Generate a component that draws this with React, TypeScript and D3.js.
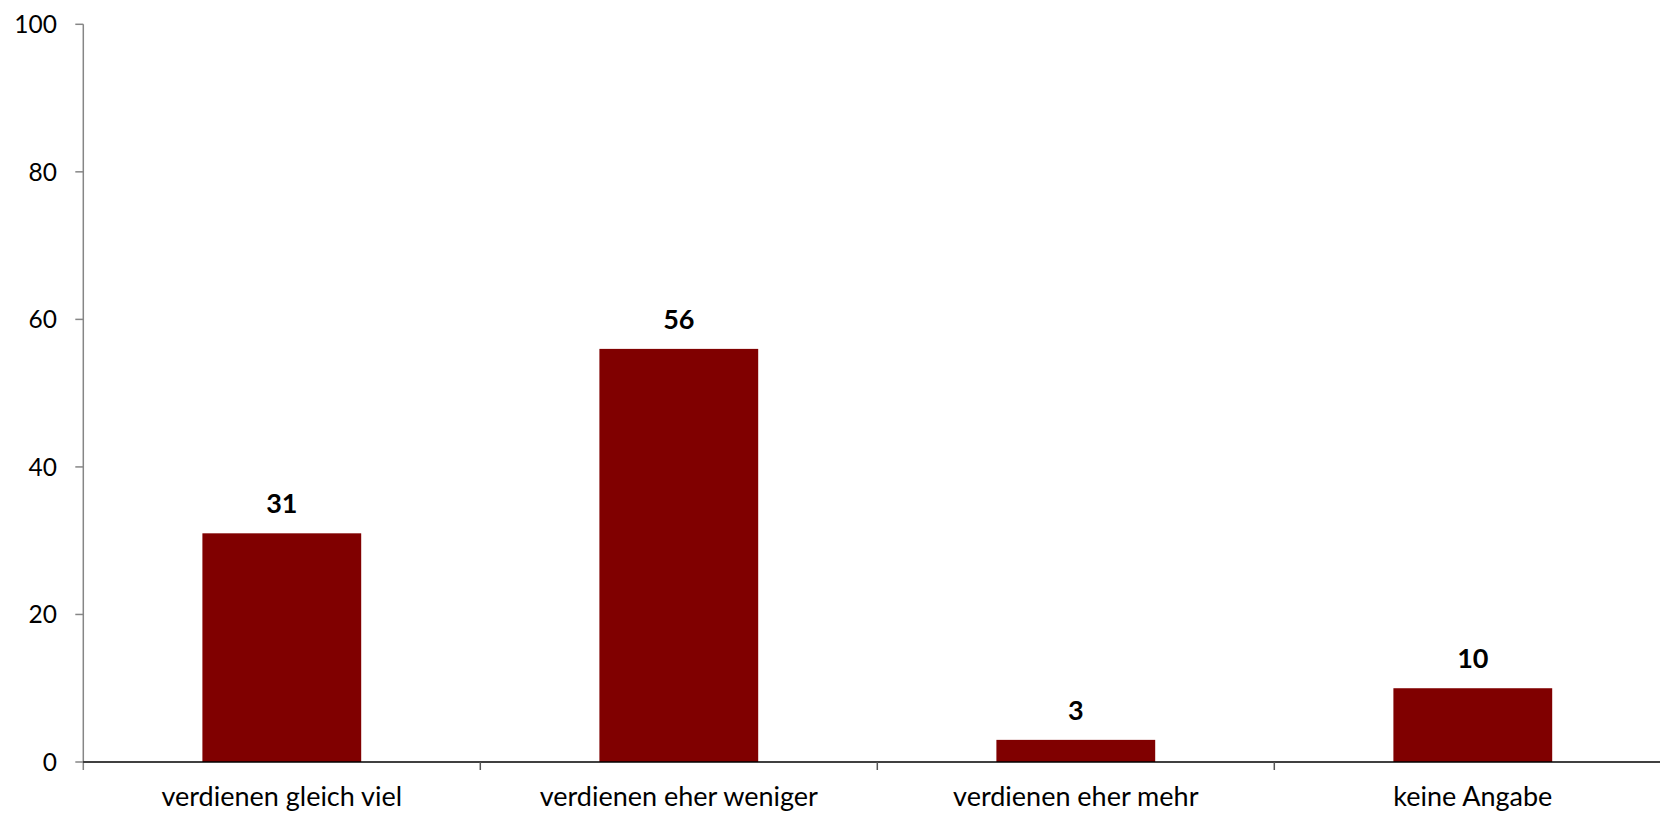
import React from "react";
import * as d3 from "d3";

const categories = ["verdienen gleich viel", "verdienen eher weniger", "verdienen eher mehr", "keine Angabe"];
const values = [31, 56, 3, 10];
const yTicks = [0, 20, 40, 60, 80, 100];

export default function App() {
  const W = 1660, H = 814;
  const left = 83.3, right = 83.3 + 4 * 397, top = 24.3, bottom = 762;
  const x = d3.scaleBand<string>().domain(categories).range([left, right]).paddingInner(0.6).paddingOuter(0.3);
  const xOuter = d3.scaleBand<string>().domain(categories).range([left, right]);
  const y = d3.scaleLinear().domain([0, 100]).range([bottom, top]);
  const font = "Lato, 'Open Sans', sans-serif";
  return (
    <svg width={W} height={H} style={{ position: "absolute", left: 0, top: 0, background: "#fff" }}>
      {categories.map((c, i) => (
        <rect key={c} x={x(c)} y={y(values[i])} width={x.bandwidth()} height={bottom - y(values[i])} fill="#800000" />
      ))}
      <line x1={left} x2={left} y1={top} y2={bottom + 8} stroke="#868686" strokeWidth={1.5} />
      {yTicks.map((t) => (
        <g key={t}>
          <line x1={left - 8} x2={left} y1={y(t)} y2={y(t)} stroke="#868686" strokeWidth={1.5} />
          <text x={57} y={y(t)} dy="0.36em" textAnchor="end" fontFamily={font} fontSize={24.5} fill="#000">{t}</text>
        </g>
      ))}
      <line x1={left} x2={right} y1={bottom} y2={bottom} stroke="#000" strokeWidth={1.5} />
      {categories.slice(1).map((c) => (
        <line key={c} x1={xOuter(c)} x2={xOuter(c)} y1={bottom} y2={bottom + 8} stroke="#555" strokeWidth={1.5} />
      ))}
      {categories.map((c) => (
        <text key={c} x={(xOuter(c) as number) + xOuter.bandwidth() / 2} y={806} textAnchor="middle" fontFamily={font} fontSize={27} fill="#000">{c}</text>
      ))}
      {categories.map((c, i) => (
        <text key={c} x={(x(c) as number) + x.bandwidth() / 2} y={y(values[i]) - 20} textAnchor="middle" fontFamily={font} fontSize={27} fontWeight="bold" fill="#000">{values[i]}</text>
      ))}
    </svg>
  );
}
